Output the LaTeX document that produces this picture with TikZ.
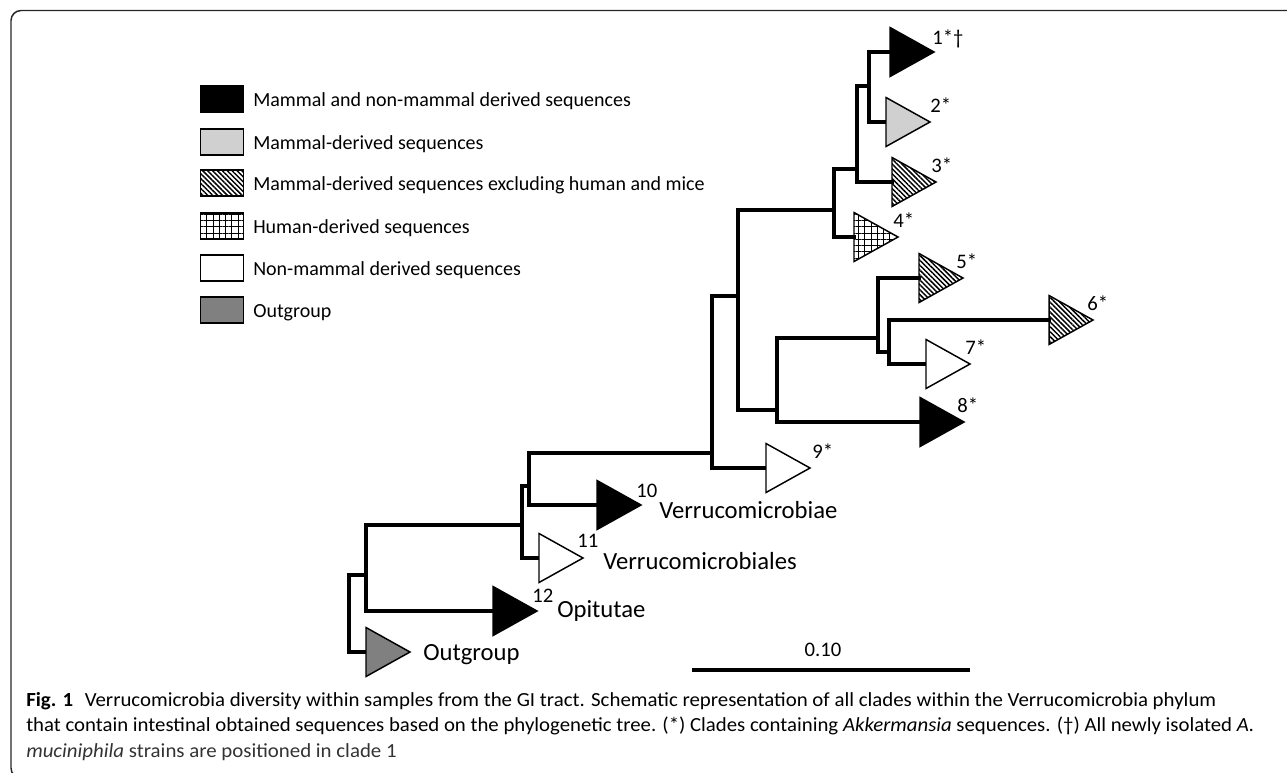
\documentclass[tikz,border=0pt]{standalone}
\usepackage{fontspec}
\setmainfont{Carlito}
\usetikzlibrary{patterns.meta}
\definecolor{lightg}{HTML}{D0D0D0}
\definecolor{outgray}{HTML}{808080}
\definecolor{captxt}{HTML}{333333}
\newsavebox\capA
\newsavebox\capB
\newcommand\capfont{\fontsize{15}{18}\selectfont}
\newcommand\cladetri[4]{%
  \coordinate (#1) at (#2,#3);
  \draw[#4] ([shift={(0,-24.5)}]#1) -- ([shift={(44,0)}]#1) -- ([shift={(0,24.5)}]#1) -- cycle;}
\begin{document}
\sbox\capA{\capfont\textbf{Fig. 1}\hspace{0.55em}Verrucomicrobia diversity within samples from the GI tract. Schematic representation of all clades within the Verrucomicrobia phylum}%
\sbox\capB{\capfont that contain intestinal obtained sequences based on the phylogenetic tree. (*) Clades containing \textit{Akkermansia} sequences. (†) All newly isolated \textit{A.}}%
\edef\capwA{\the\wd\capA}%
\edef\capwB{\the\wd\capB}%
\pgfmathsetmacro\capscaleA{892.5pt/\capwA}%
\pgfmathsetmacro\capscaleB{921pt/\capwB}%
\begin{tikzpicture}[x=0.75pt,y=-0.75pt,
  branch/.style={line width=2.3pt, line join=miter, line cap=rect},
  tri/.style={draw, line width=1.1pt, line join=miter},
  blk/.style={tri, fill=black},
  lgr/.style={tri, fill=lightg},
  hatchfill/.style={tri, pattern={Lines[angle=-45,distance=2.6pt,line width=1.1pt]}},
  gridfill/.style={tri, pattern={Hatch[angle=0,distance=4.7pt,line width=0.6pt]}},
  wht/.style={tri, fill=white},
  outg/.style={tri, fill=outgray},
  legbox/.style={draw, line width=1.1pt, minimum width=32.25pt, minimum height=19.5pt, inner sep=0pt},
  legtxt/.style={anchor=base west, inner sep=0pt, font=\fontsize{15}{18}\selectfont},
  numlab/.style={anchor=base west, inner sep=0pt, font=\fontsize{15.5}{18}\selectfont},
  namelab/.style={anchor=base west, inner sep=0pt, font=\fontsize{18.5}{22}\selectfont},
  captext/.style={anchor=base west, inner sep=0pt, text=captxt, font=\capfont}
]
\useasboundingbox (0,0) rectangle (1287,772);
\begin{scope}
\clip (0,0) rectangle (1287,772);
\draw[line width=1.1pt, color=black!85, rounded corners=7.5pt] (11,10.5) rectangle (1300,778);
\end{scope}

% legend
\node[legbox, fill=black] (k1) at (222,99) {};
\node[legbox, fill=lightg] (k2) at (222,142) {};
\node[legbox, pattern={Lines[angle=-45,distance=2.6pt,line width=1.1pt]}] (k3) at (222,183) {};
\node[legbox, pattern={Hatch[angle=0,distance=4.7pt,line width=0.6pt]}] (k4) at (222,226) {};
\node[legbox, fill=white] (k5) at (222,268) {};
\node[legbox, fill=outgray] (k6) at (222,310) {};
\node[legtxt] (kt1) at (253,106) {Mammal and non-mammal derived sequences};
\node[legtxt] (kt2) at (253,149) {Mammal-derived sequences};
\node[legtxt] (kt3) at (253,190) {Mammal-derived sequences excluding human and mice};
\node[legtxt] (kt4) at (253,233) {Human-derived sequences};
\node[legtxt] (kt5) at (253,275) {Non-mammal derived sequences};
\node[legtxt] (kt6) at (253,317) {Outgroup};

% internal nodes
\coordinate (R) at (349,575);
\coordinate (A) at (366,575);
\coordinate (B) at (522,525);
\coordinate (C) at (529,486);
\coordinate (D) at (712,453);
\coordinate (E) at (738,296);
\coordinate (F) at (834,210);
\coordinate (H) at (857,169);
\coordinate (I) at (869,86);
\coordinate (G) at (777,410);
\coordinate (J) at (878,338);
\coordinate (K) at (889,352);

% clade tips (base midpoints)
\coordinate (t1) at (890,52);
\coordinate (t2) at (886,122);
\coordinate (t3) at (892,182);
\coordinate (t4) at (854,237);
\coordinate (t5) at (919,278);
\coordinate (t6) at (1049,320);
\coordinate (t7) at (926,364);
\coordinate (t8) at (920,422);
\coordinate (t9) at (766,468);
\coordinate (t10) at (597,505);
\coordinate (t11) at (539,558);
\coordinate (t12) at (493,611);
\coordinate (t0) at (366,652);

% branches
\draw[branch] (R) |- (A);
\draw[branch] (R) |- (t0);
\draw[branch] (A) |- (B);
\draw[branch] (A) |- (t12);
\draw[branch] (B) |- (C);
\draw[branch] (B) |- (t11);
\draw[branch] (C) |- (D);
\draw[branch] (C) |- (t10);
\draw[branch] (D) |- (E);
\draw[branch] (D) |- (t9);
\draw[branch] (E) |- (F);
\draw[branch] (E) |- (G);
\draw[branch] (F) |- (H);
\draw[branch] (F) |- (t4);
\draw[branch] (H) |- (I);
\draw[branch] (H) |- (t3);
\draw[branch] (I) |- (t1);
\draw[branch] (I) |- (t2);
\draw[branch] (G) |- (J);
\draw[branch] (G) |- (t8);
\draw[branch] (J) |- (t5);
\draw[branch] (J) |- (K);
\draw[branch] (K) |- (t6);
\draw[branch] (K) |- (t7);

% clade triangles
\cladetri{c1}{890}{52}{blk}
\cladetri{c2}{886}{122}{lgr}
\cladetri{c3}{892}{182}{hatchfill}
\cladetri{c4}{854}{237}{gridfill}
\cladetri{c5}{919}{278}{hatchfill}
\cladetri{c6}{1049}{320}{hatchfill}
\cladetri{c7}{926}{364}{wht}
\cladetri{c8}{920}{422}{blk}
\cladetri{c9}{766}{468}{wht}
\cladetri{c10}{597}{505}{blk}
\cladetri{c11}{539}{558}{wht}
\cladetri{c12}{493}{611}{blk}
\cladetri{c0}{366}{652}{outg}

% clade labels
\node[numlab] (n1) at (932,44) {1*†};
\node[numlab] (n2) at (930,112) {2*};
\node[numlab] (n3) at (931,172) {3*};
\node[numlab] (n4) at (893,227) {4*};
\node[numlab] (n5) at (956,268) {5*};
\node[numlab] (n6) at (1087,310) {6*};
\node[numlab] (n7) at (965,354) {7*};
\node[numlab] (n8) at (957,412) {8*};
\node[numlab] (n9) at (812,458) {9*};
\node[numlab] (n10) at (636,497) {10};
\node[numlab] (n11) at (577,547) {11};
\node[numlab] (n12) at (532,602) {12};
\node[namelab] (m10) at (659,518) {Verrucomicrobiae};
\node[namelab] (m11) at (603,569) {Verrucomicrobiales};
\node[namelab] (m12) at (557,617) {Opitutae};
\node[namelab] (m0) at (423,660) {Outgroup};

% scale bar
\coordinate (s0) at (692,670);
\coordinate (s1) at (970,670);
\draw[line width=2.3pt] (s0) -- (s1);
\node[numlab, anchor=base] (sl) at (823,656) {0.10};

% caption
\node[captext] (cap1) at (26,706) {\scalebox{\capscaleA}[1]{\usebox\capA}};
\node[captext] (cap2) at (26,731.5) {\scalebox{\capscaleB}[1]{\usebox\capB}};
\node[captext] (cap3) at (26,757) {\scalebox{\capscaleA}[1]{\textit{muciniphila} strains are positioned in clade 1}};
\end{tikzpicture}
\end{document}
